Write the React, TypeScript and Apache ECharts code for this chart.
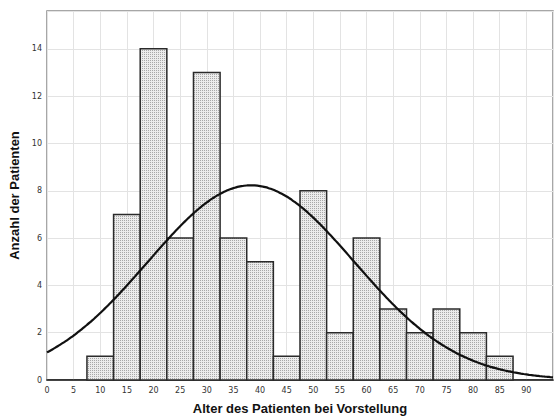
import React, { useEffect, useRef } from "react";
import * as echarts from "echarts";

const binCenters = [10, 15, 20, 25, 30, 35, 40, 45, 50, 55, 60, 65, 70, 75, 80, 85];
const counts = [1, 7, 14, 6, 13, 6, 5, 1, 8, 2, 6, 3, 2, 3, 2, 1];
const binWidth = 5;
const xTitle = "Alter des Patienten bei Vorstellung";
const yTitle = "Anzahl der Patienten";

function makePattern(): any {
  const c = document.createElement("canvas");
  c.width = 2;
  c.height = 2;
  const ctx = c.getContext("2d");
  if (!ctx) return "#d9d9d9";
  ctx.fillStyle = "#ececec";
  ctx.fillRect(0, 0, 2, 2);
  ctx.fillStyle = "#a8a8a8";
  ctx.fillRect(0, 0, 1, 1);
  return { image: c, repeat: "repeat" };
}

export default function App() {
  const ref = useRef<HTMLDivElement>(null);
  useEffect(() => {
    if (!ref.current) return;
    const chart = echarts.init(ref.current, null, { renderer: "svg" });
    // fitted normal curve from the histogram's own mean and SD
    const n = counts.reduce((a, b) => a + b, 0);
    const mean = binCenters.reduce((s, x, i) => s + x * counts[i], 0) / n;
    const variance =
      binCenters.reduce((s, x, i) => s + counts[i] * (x - mean) ** 2, 0) / (n - 1);
    const sd = Math.sqrt(variance);
    const curve: number[][] = [];
    for (let x = 0; x <= 95; x += 0.5) {
      const y =
        (n * binWidth) / (sd * Math.sqrt(2 * Math.PI)) *
        Math.exp(-((x - mean) ** 2) / (2 * sd * sd));
      curve.push([x, y]);
    }
    const bars = binCenters.map((c, i) => [c - binWidth / 2, c + binWidth / 2, counts[i]]);
    const fill = makePattern();
    chart.setOption({
      animation: false,
      grid: {
        left: 47,
        top: 11,
        right: 1,
        bottom: 39,
        show: true,
        borderColor: "#8a8a8a",
        borderWidth: 1.5,
        outerBoundsMode: "none",
        containLabel: false,
      },
      xAxis: {
        type: "value",
        min: 0,
        max: 95,
        interval: 5,
        name: xTitle,
        nameLocation: "middle",
        nameGap: 22,
        nameTextStyle: { fontFamily: "Liberation Sans", fontWeight: "bold", fontSize: 13, color: "#111" },
        axisLine: { show: true, onZero: false, lineStyle: { color: "#111", width: 1.5 } },
        axisTick: { show: false },
        axisLabel: {
          showMaxLabel: false,
          margin: 6,
          fontFamily: "DejaVu Sans",
          fontSize: 8,
          color: "#333",
        },
        splitLine: { show: true, lineStyle: { color: "#e3e3e3", width: 1 } },
      },
      yAxis: {
        type: "value",
        min: 0,
        max: 15.6,
        interval: 2,
        name: yTitle,
        nameLocation: "middle",
        nameGap: 25,
        nameTextStyle: { fontFamily: "Liberation Sans", fontWeight: "bold", fontSize: 13, color: "#111" },
        axisLine: { show: false },
        axisTick: { show: false },
        axisLabel: {
          showMaxLabel: false,
          margin: 5,
          fontFamily: "DejaVu Sans",
          fontSize: 8,
          color: "#333",
        },
        splitLine: { show: true, lineStyle: { color: "#e3e3e3", width: 1 } },
      },
      series: [
        {
          type: "custom",
          data: bars,
          encode: { x: [0, 1], y: 2 },
          renderItem: (params: any, api: any) => {
            const p0 = api.coord([api.value(0), api.value(2)]);
            const p1 = api.coord([api.value(1), 0]);
            return {
              type: "rect",
              shape: { x: p0[0], y: p0[1], width: p1[0] - p0[0], height: p1[1] - p0[1] },
              style: { fill: fill, stroke: "#2a2a2a", lineWidth: 1.5 },
            };
          },
          z: 2,
        },
        {
          type: "line",
          data: curve,
          showSymbol: false,
          smooth: true,
          clip: true,
          lineStyle: { color: "#111", width: 2.2 },
          z: 3,
        },
      ],
    });
    return () => chart.dispose();
  }, []);
  return (
    <div
      ref={ref}
      style={{ position: "absolute", left: 0, top: 0, width: 554, height: 419 }}
    />
  );
}
